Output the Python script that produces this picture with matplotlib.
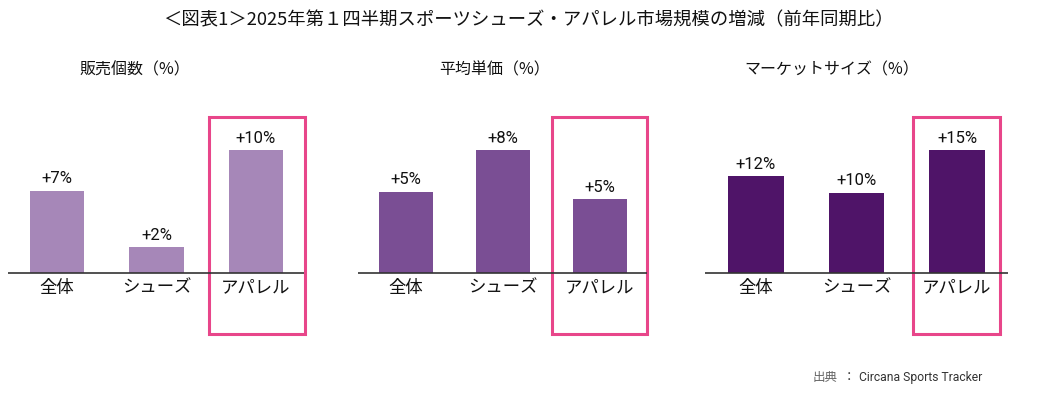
import matplotlib
matplotlib.use('Agg')
import matplotlib.pyplot as plt
from matplotlib.patches import Rectangle

plt.rcParams['font.family'] = ['Noto Sans CJK JP', 'DejaVu Sans']

categories = ['全体', 'シューズ', 'アパレル']
panel_titles = ['販売個数（%）', '平均単価（%）', 'マーケットサイズ（%）']
# bar heights, labels as printed
units_values = [6.7, 2.1, 10.0]
price_values = [5.3, 8.0, 4.8]
market_values = [11.8, 9.8, 15.0]
units_labels = ['+7%', '+2%', '+10%']
price_labels = ['+5%', '+8%', '+5%']
market_labels = ['+12%', '+10%', '+15%']

colors = ['#A687B8', '#7A4E94', '#4F1468']
box_color = '#E8468A'

W, H = 1053, 395
fig = plt.figure(figsize=(W / 100, H / 100), dpi=100)

# pixel layout of each panel: line left, line right, first bar centre, spacing
layout = [(8, 304, 57, 99.5), (358, 647, 406, 97), (705, 1008, 756, 100.5)]
box_x = [(209, 305), (552, 647), (913, 1000)]
subtitle_x = [135, 495, 832]
box_top, box_bot, base_px, top_px = 117, 334, 273, 150

panels = [(units_values, units_labels), (price_values, price_labels),
          (market_values, market_labels)]

for i, (vals, labels) in enumerate(panels):
    left, right, c0, step = layout[i]
    ax = fig.add_axes([left / W, 1 - box_bot / H, (right - left) / W,
                       (box_bot - box_top) / H])
    vmax = max(vals)
    scale = (base_px - top_px) / vmax
    ax.set_ylim(-(box_bot - base_px) / scale, (base_px - box_top) / scale)
    ax.set_xlim((left - c0) / step, (right - c0) / step)
    xs = range(len(categories))
    ax.bar(xs, vals, width=0.55, color=colors[i])
    ax.axhline(0, color='#333333', lw=1.2)
    for x, v, lab in zip(xs, vals, labels):
        ax.annotate(lab, (x, v), xytext=(0, 3), textcoords='offset points',
                    ha='center', va='bottom', fontsize=12,
                    family=['Roboto', 'DejaVu Sans'], color='#111111')
        ax.annotate(categories[x], (x, 0), xytext=(0, -4),
                    textcoords='offset points', ha='center', va='top',
                    fontsize=12.5, color='#111111')
    ax.set_xticks([])
    ax.set_yticks([])
    for s in ax.spines.values():
        s.set_visible(False)
    ax.patch.set_alpha(0)
    # highlight box around apparel
    bx0 = (box_x[i][0] - c0) / step
    bx1 = (box_x[i][1] - c0) / step
    ax.add_patch(Rectangle((bx0, 0), bx1 - bx0, 1,
                           transform=ax.get_xaxis_transform(), fill=False,
                           edgecolor=box_color, lw=2.2, clip_on=False))
    fig.text(subtitle_x[i] / W, 1 - 70 / H, panel_titles[i], ha='center',
             va='center', fontsize=11.5, color='#111111')

fig.text(528 / W, 1 - 20 / H,
         '＜図表1＞2025年第１四半期スポーツシューズ・アパレル市場規模の増減（前年同期比）',
         ha='center', va='center', fontsize=13.2, color='#111111')

fig.text(859 / W, 1 - 378 / H, 'Circana Sports Tracker', ha='left',
         va='center', fontsize=8.7, family=['Roboto', 'DejaVu Sans'],
         color='#333333')
fig.text(849 / W, 1 - 378 / H, '：', ha='center', va='center',
         fontsize=9, color='#333333')
fig.text(838 / W, 1 - 378 / H, '出典', ha='right', va='center',
         fontsize=9, color='#666666')

fig.savefig('out.png', dpi=100, facecolor='white')
